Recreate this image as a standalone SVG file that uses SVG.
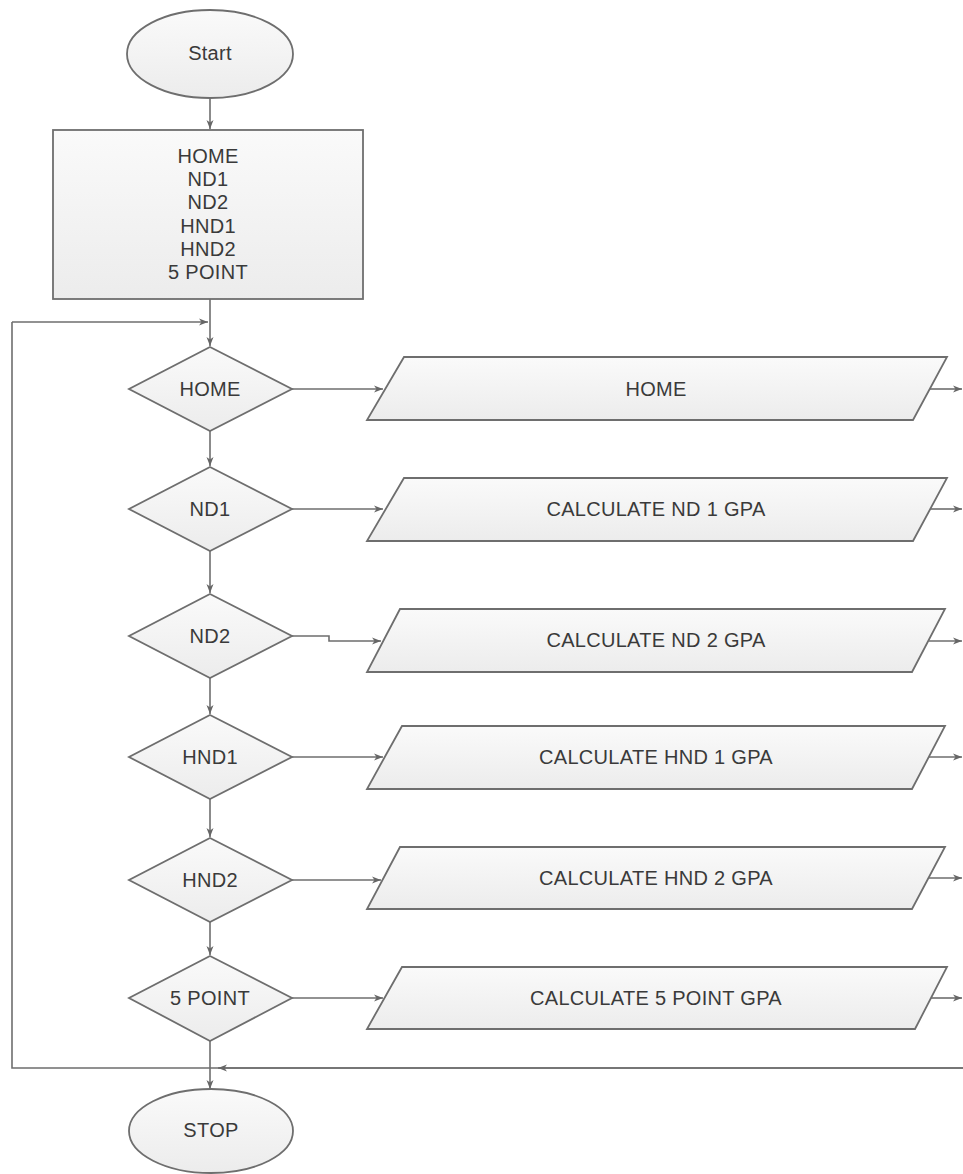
<svg xmlns="http://www.w3.org/2000/svg" width="963" height="1174" viewBox="0 0 963 1174">
<defs>
<linearGradient id="g" x1="0" y1="0" x2="0" y2="1">
<stop offset="0" stop-color="#fafafa"/>
<stop offset="1" stop-color="#ececec"/>
</linearGradient>
<marker id="a" markerWidth="10" markerHeight="8" refX="9" refY="4" orient="auto" markerUnits="userSpaceOnUse">
<path d="M0,0.5 L9,4 L0,7.5 L2.5,4 Z" fill="#666"/>
</marker>
<style>
.s{fill:url(#g);stroke:#6e6e6e;stroke-width:1.8}
.t{font-family:"Liberation Sans",Arial,sans-serif;font-size:20px;letter-spacing:0.3px;fill:#3a3a3a;text-anchor:middle;dominant-baseline:central}
.c{fill:none;stroke:#6e6e6e;stroke-width:1.6}
</style>
</defs>
<rect width="963" height="1174" fill="#fff"/>
<g id="connectors">
<path class="c" d="M210,98 V129" marker-end="url(#a)"/>
<path class="c" d="M210,299 V346" marker-end="url(#a)"/>
<path class="c" d="M12,322 V1068 H963"/>
<path class="c" d="M12,322 H208" marker-end="url(#a)"/>
<path class="c" d="M963,1068 H218" marker-end="url(#a)"/>
<path class="c" d="M210,431 V466" marker-end="url(#a)"/>
<path class="c" d="M210,551 V593" marker-end="url(#a)"/>
<path class="c" d="M210,678 V714" marker-end="url(#a)"/>
<path class="c" d="M210,799 V837" marker-end="url(#a)"/>
<path class="c" d="M210,922 V955" marker-end="url(#a)"/>
<path class="c" d="M210,1041 V1089" marker-end="url(#a)"/>
<path class="c" d="M292,389 H383" marker-end="url(#a)"/>
<path class="c" d="M292,509 H383" marker-end="url(#a)"/>
<path class="c" d="M292,636 H329 V641 H381" marker-end="url(#a)"/>
<path class="c" d="M292,757 H383" marker-end="url(#a)"/>
<path class="c" d="M292,880 H381" marker-end="url(#a)"/>
<path class="c" d="M292,998 H383" marker-end="url(#a)"/>
<path class="c" d="M930,389 H962" marker-end="url(#a)"/>
<path class="c" d="M930,509 H962" marker-end="url(#a)"/>
<path class="c" d="M929,641 H962" marker-end="url(#a)"/>
<path class="c" d="M929,757 H962" marker-end="url(#a)"/>
<path class="c" d="M929,878 H962" marker-end="url(#a)"/>
<path class="c" d="M930,998 H962" marker-end="url(#a)"/>
</g>
<g id="start"><ellipse class="s" cx="210" cy="54" rx="83" ry="44"/><text class="t" x="210" y="53">Start</text></g>
<g id="menu"><rect class="s" x="53" y="130" width="310" height="169"/>
<text class="t" x="208" y="156">HOME</text>
<text class="t" x="208" y="179">ND1</text>
<text class="t" x="208" y="202">ND2</text>
<text class="t" x="208" y="226">HND1</text>
<text class="t" x="208" y="249">HND2</text>
<text class="t" x="208" y="272">5 POINT</text>
</g>
<g id="d-home"><polygon class="s" points="210,347 292,389 210,431 129,389"/><text class="t" x="210" y="389">HOME</text></g>
<g id="d-nd1"><polygon class="s" points="210,467 292,509 210,551 129,509"/><text class="t" x="210" y="509">ND1</text></g>
<g id="d-nd2"><polygon class="s" points="210,594 292,636 210,678 129,636"/><text class="t" x="210" y="636">ND2</text></g>
<g id="d-hnd1"><polygon class="s" points="210,715 292,757 210,799 129,757"/><text class="t" x="210" y="757">HND1</text></g>
<g id="d-hnd2"><polygon class="s" points="210,838 292,880 210,922 129,880"/><text class="t" x="210" y="880">HND2</text></g>
<g id="d-5point"><polygon class="s" points="210,956 292,998 210,1041 129,998"/><text class="t" x="210" y="998">5 POINT</text></g>
<g id="p-home"><polygon class="s" points="404,357 947,357 913,420 367,420"/><text class="t" x="656" y="389">HOME</text></g>
<g id="p-nd1"><polygon class="s" points="404,478 947,478 913,541 367,541"/><text class="t" x="656" y="509">CALCULATE ND 1 GPA</text></g>
<g id="p-nd2"><polygon class="s" points="400,609 945,609 912,672 367,672"/><text class="t" x="656" y="640">CALCULATE ND 2 GPA</text></g>
<g id="p-hnd1"><polygon class="s" points="402,726 945,726 912,789 367,789"/><text class="t" x="656" y="757">CALCULATE HND 1 GPA</text></g>
<g id="p-hnd2"><polygon class="s" points="400,847 945,847 912,909 367,909"/><text class="t" x="656" y="878">CALCULATE HND 2 GPA</text></g>
<g id="p-5point"><polygon class="s" points="402,967 947,967 915,1029 367,1029"/><text class="t" x="656" y="998">CALCULATE 5 POINT GPA</text></g>
<g id="stop"><ellipse class="s" cx="211" cy="1131" rx="82" ry="42"/><text class="t" x="211" y="1130">STOP</text></g>
</svg>
